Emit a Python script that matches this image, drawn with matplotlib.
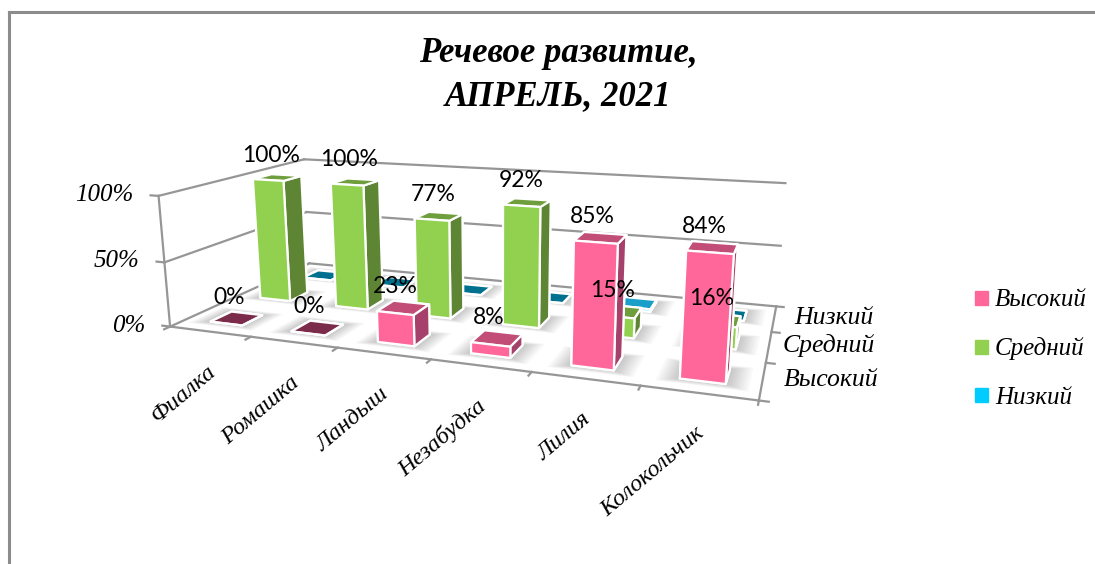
import numpy as np
import matplotlib
matplotlib.use('Agg')
import matplotlib.pyplot as plt
from matplotlib.patches import Patch
from matplotlib.lines import Line2D
from mpl_toolkits.mplot3d.art3d import Poly3DCollection
from mpl_toolkits.mplot3d import proj3d

categories = ['Фиалка', 'Ромашка', 'Ландыш', 'Незабудка', 'Лилия', 'Колокольчик']
series_names = ['Высокий', 'Средний', 'Низкий']
high = [0, 0, 23, 8, 85, 84]
mid = [100, 100, 77, 92, 15, 16]
low = [0, 0, 0, 0, 2, 0]
z_ticks = [0, 50, 100]

W, H = 1095, 564
fig = plt.figure(figsize=(W/100, H/100), dpi=100)
ax = fig.add_axes([0.3605, 0.3947, 0.1557, 0.3024], projection='3d', computed_zorder=False)
ax.set_proj_type('persp', focal_length=1)
ax.view_init(13.698, -69.951, 0.226)
ax.set_box_aspect((1, 0.479, 0.234), zoom=float(np.exp(1.281)))

def lims():
    ax.set_xlim(0, 6, view_margin=0)
    ax.set_ylim(0, 3, view_margin=0)
    ax.set_zlim(0, 100, view_margin=0)
lims()
M = ax.get_proj()

def label(x, y, z, s, dx=0, dy=0, **kw):
    px, py, _ = proj3d.proj_transform(x, y, z, M)
    kw.setdefault('ha', 'center')
    kw.setdefault('va', 'center')
    ax.annotate(s, xy=(px, py), xycoords='data', xytext=(dx, dy), textcoords='offset pixels',
                annotation_clip=False, clip_on=False, zorder=500, **kw)

values = [high, mid, low]
front = ['#ff6699', '#92d050', '#00ccff']
top = ['#c24e78', '#6f9e3c', '#1a9fc9']
side_c = ['#a5416a', '#5e8533', '#0a86ab']
zero = ['#7b2c4a', '#5e8533', '#00708f']
bw, bd = 0.4, 0.4

def shadow(x0, y0):
    for e in np.linspace(0.2, 0.03, 8):
        ex, ey = e, e*0.6
        v = [(x0-ex, y0-ey, 0), (x0+bw+ex, y0-ey, 0), (x0+bw+ex, y0+bd+ey, 0), (x0-ex, y0+bd+ey, 0)]
        p = Poly3DCollection([v], facecolors=(0, 0, 0, 0.028), edgecolors='none', zorder=2)
        p.set_clip_on(False)
        ax.add_collection3d(p)

zo = 3
for j in [2, 1, 0]:
    for i, val in enumerate(values[j]):
        x0 = i + (1-bw)/2
        y0 = j + (1-bd)/2
        shadow(x0, y0)
        t = zero[j] if val == 0 else top[j]
        cols = [t, t, front[j], front[j], side_c[j], side_c[j]]
        c = ax.bar3d(x0, y0, 0, bw, bd, val, color=cols, shade=False, edgecolor='white', linewidth=1.6)
        c.set_zorder(zo)
        c.set_clip_on(False)
        zo += 1

lk = dict(color='#969696', lw=1.6, zorder=1, clip_on=False)
for z in z_ticks:
    ax.plot([0, 0], [0, 3], [z, z], **lk)
    ax.plot([0, 6], [3, 3], [z, z], **lk)
    ax.plot([-0.1, 0], [0, 0], [z, z], **lk)
ax.plot([0, 0], [0, 0], [0, 100], **lk)
ax.plot([0, 6], [0, 0], [0, 0], **lk)
ax.plot([6, 6], [0, 3], [0, 0], **lk)
for i in range(len(categories)+1):
    ax.plot([i, i], [0, -0.1], [0, 0], **lk)
for j in range(len(series_names)+1):
    ax.plot([6, 6.08], [j, j], [0, 0], **lk)

sf = 'Liberation Serif'
for z in z_ticks:
    label(0, 0, z, f'{z}%', dx=-25, dy=1, family=sf, style='italic', fontsize=18, ha='right')
for i, c in enumerate(categories):
    label(i+0.5, 0, 0, c, dx=3, dy=-38, family=sf, style='italic', fontsize=17.5, rotation=40,
          rotation_mode='anchor', ha='right')
for j, n in enumerate(series_names):
    label(6, j+0.5, 0, n, dx=69 if j == 0 else 60, dy=1, family=sf, style='italic', fontsize=18.5)
for j in [0, 1]:
    for i, val in enumerate(values[j]):
        if j == 0:
            dx, dy = -8, 21
        elif val > 50:
            dx, dy = -6, 22
        else:
            dx, dy = -6, 21
        label(i+0.5, j+0.5, val, f'{val}%', dx=dx, dy=dy, family='Lato', fontsize=16.5)
lims()
ax.set_axis_off()

fig.text(558/W, 1-75/H, 'Речевое развитие,\nАПРЕЛЬ, 2021', family=sf, style='italic', weight='bold',
         fontsize=25, ha='center', va='center', linespacing=1.4)
for a in [Line2D([9/W, 1], [1-12/H]*2), Line2D([9/W, 9/W], [1-12/H, 0])]:
    a.set_color('#8c8c8c')
    a.set_linewidth(2.2)
    a.set_transform(fig.transFigure)
    fig.add_artist(a)
fig.legend(handles=[Patch(color=c, label=n) for c, n in zip(front, series_names)], loc='center left',
           bbox_to_anchor=(975/W, 1-349/H), frameon=False, prop=dict(family=sf, style='italic', size=18),
           labelspacing=1.04, handlelength=.5, handleheight=.5, handletextpad=.3, borderpad=0, borderaxespad=0)
fig.savefig('out.png', dpi=100)
